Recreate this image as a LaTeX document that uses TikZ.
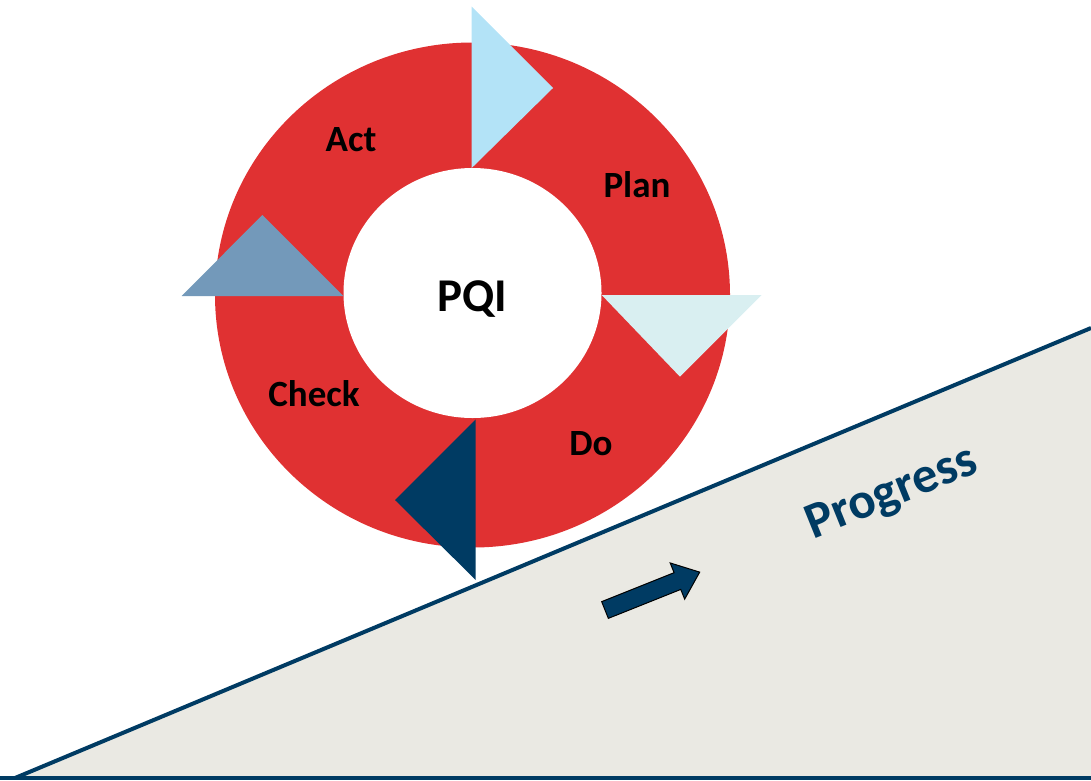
\documentclass[tikz,border=0pt]{standalone}
\usepackage{fontspec}
\setmainfont{Carlito}
\definecolor{ringred}{HTML}{E03132}
\definecolor{skyblue}{HTML}{B3E3F7}
\definecolor{paleblue}{HTML}{D9EFF1}
\definecolor{navy}{HTML}{003B63}
\definecolor{steel}{HTML}{7399BA}
\definecolor{slopegray}{HTML}{EAE9E3}
\tikzset{
  lbl/.style={font=\fontsize{37}{40}\selectfont\bfseries, text=black, inner sep=0pt, anchor=base},
  navyline/.style={draw=navy, line width=4pt}
}
\begin{document}
\begin{tikzpicture}[x=1pt,y=-1pt]
\useasboundingbox (0,0) rectangle (1091,780);
% slope
\coordinate (s0) at (15,778);
\coordinate (s1) at (1091,328);
\coordinate (s2) at (1091,778);
\fill[slopegray] (s0) -- (s1) -- (s2) -- cycle;
\draw[navyline] (s0) -- (s1);
\draw[navyline] (0,778) -- (s2);
% ring
\coordinate (c) at (472.5,295);
\fill[ringred] (c) ellipse [x radius=257.5, y radius=252.5];
\fill[white] (472.5,293) ellipse [x radius=129, y radius=125];
% triangles
\fill[skyblue] (471.7,6.7) -- (553,88) -- (471.7,168) -- cycle;
\fill[paleblue] (601.7,295) -- (761.7,295) -- (680,376.7) -- cycle;
\fill[navy] (475.7,419.3) -- (475.7,580) -- (395,500) -- cycle;
\fill[steel] (181.7,296) -- (343.3,296) -- (262.3,215) -- cycle;
% labels
\node[lbl] (act) at (351,151.7) {Act};
\node[lbl] (plan) at (637,197) {Plan};
\node[lbl] (check) at (314,406.7) {Check};
\node[lbl] (do) at (591,455) {Do};
\node[lbl, font=\fontsize{47}{50}\selectfont\bfseries] (pqi) at (472.5,311.7) {PQI};
\node[font=\fontsize{51}{54}\selectfont\bfseries, text=navy, rotate=22, inner sep=0pt] (prog) at (892,494) {Progress};
% arrow
\begin{scope}[shift={(605,610)}, rotate=21.8]
\draw[fill=navy, draw=black, line width=1pt, line join=miter]
  (0,-9) -- (78,-9) -- (78,-19.5) -- (102,0) -- (78,19.5) -- (78,9) -- (0,9) -- cycle;
\end{scope}
\end{tikzpicture}
\end{document}
